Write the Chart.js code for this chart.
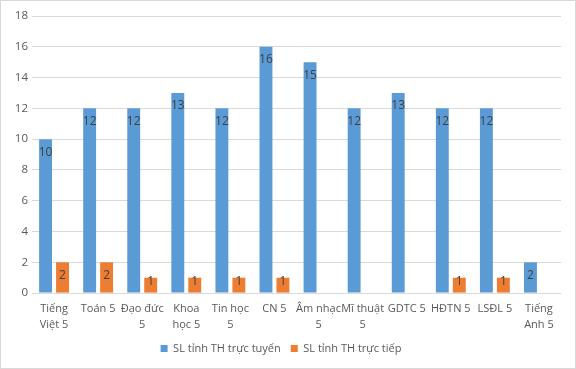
<!DOCTYPE html>
<html>
<head>
<meta charset="utf-8">
<script src="https://cdn.jsdelivr.net/npm/chart.js@4/dist/chart.umd.min.js"></script>
<style>
  html, body { margin: 0; padding: 0; background: #fff; }
  #wrap { width: 574px; height: 367px; border: 1px solid #d9d9d9; position: relative; }
</style>
</head>
<body>
<div id="wrap"><canvas id="chart" width="574" height="367"></canvas></div>
<script>
// Chart data
const categories = [
    ['Tiếng', 'Việt 5'], 'Toán 5', ['Đạo đức', '5'], ['Khoa', 'học 5'], ['Tin học', '5'], 'CN 5',
    ['Âm nhạc', '5'], ['Mĩ thuật', '5'], 'GDTC 5', 'HĐTN 5', 'LSĐL 5', ['Tiếng', 'Anh 5']
];
const onlineValues = [10, 12, 12, 13, 12, 16, 15, 12, 13, 12, 12, 2];
const directValues = [2, 2, 1, 1, 1, 1, null, null, null, 1, 1, null];
const seriesNames = ['SL tỉnh TH trực tuyến', 'SL tỉnh TH trực tiếp'];
const yTicks = [0, 2, 4, 6, 8, 10, 12, 14, 16, 18];

const FONT = "'Open Sans', 'Liberation Sans', sans-serif";

// draw the value inside the top end of each bar (kept above the axis for short bars)
const barLabels = {
    id: 'barLabels',
    afterDatasetsDraw(chart) {
        const ctx = chart.ctx;
        ctx.save();
        ctx.font = '12px ' + FONT;
        ctx.fillStyle = '#404040';
        ctx.textAlign = 'center';
        ctx.textBaseline = 'middle';
        chart.data.datasets.forEach((ds, i) => {
            chart.getDatasetMeta(i).data.forEach((bar, j) => {
                const v = ds.data[j];
                if (v === null || v === undefined) return;
                const y = Math.min(bar.y + 13, bar.base - 11);
                ctx.fillText(String(v), bar.x, y);
            });
        });
        ctx.restore();
    }
};

new Chart(document.getElementById('chart'), {
    type: 'bar',
    data: {
        labels: categories,
        datasets: [
            { label: seriesNames[0], data: onlineValues, backgroundColor: '#5b9bd5',
              categoryPercentage: 0.77, barPercentage: 0.76 },
            { label: seriesNames[1], data: directValues, backgroundColor: '#ed7d31',
              categoryPercentage: 0.77, barPercentage: 0.76 }
        ]
    },
    options: {
        responsive: false,
        animation: false,
        layout: { padding: { top: 15, right: 14, left: 0, bottom: 4 } },
        scales: {
            x: {
                grid: { display: false },
                border: { display: false },
                ticks: { color: '#595959', font: { family: FONT, size: 11, lineHeight: 1.45 }, maxRotation: 0, autoSkip: false, padding: 0 }
            },
            y: {
                min: 0, max: 18,
                afterBuildTicks(scale) { scale.ticks = yTicks.map(v => ({ value: v })); },
                afterFit(scale) { scale.width = 31; },
                grid: { color: '#d9d9d9', drawTicks: false },
                border: { display: false },
                ticks: { color: '#595959', font: { family: FONT, size: 11.5 }, padding: 4 }
            }
        },
        plugins: {
            legend: {
                position: 'bottom',
                labels: { color: '#595959', font: { family: FONT, size: 11 }, boxWidth: 7, boxHeight: 7, padding: 10 }
            },
            tooltip: { enabled: false }
        }
    },
    plugins: [barLabels]
});
</script>
</body>
</html>
